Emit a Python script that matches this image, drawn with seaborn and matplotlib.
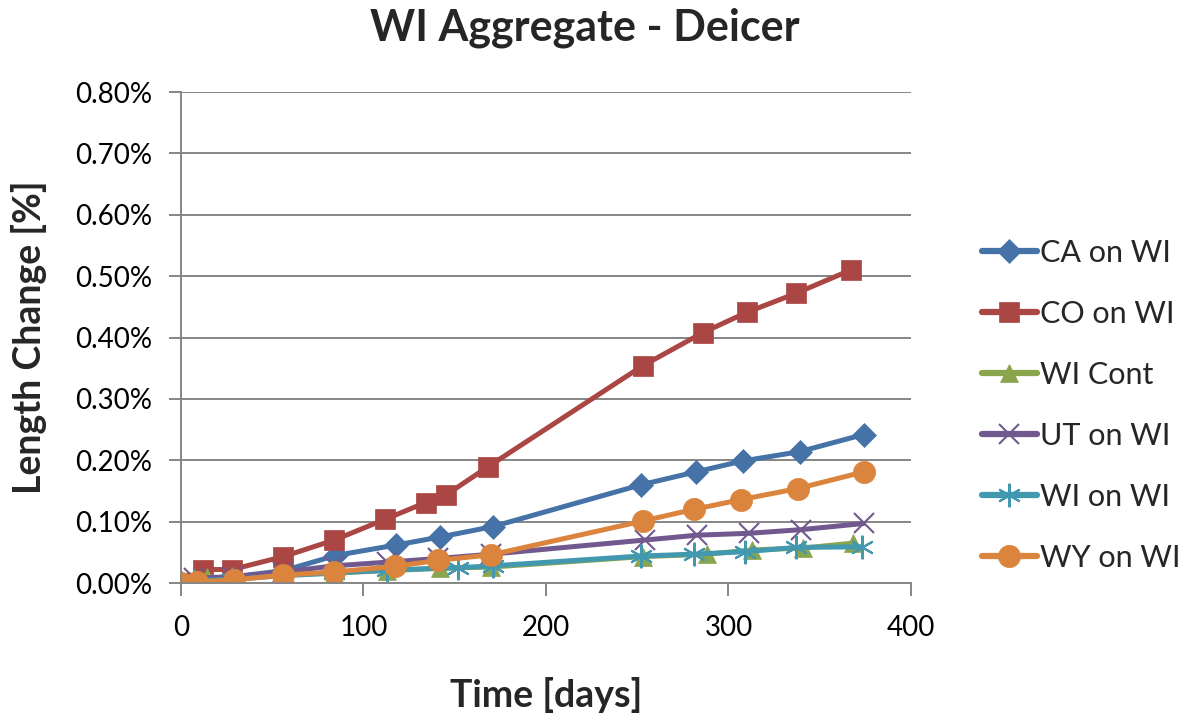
import matplotlib
matplotlib.use("Agg")
import matplotlib.pyplot as plt
import seaborn as sns
import pandas as pd
from matplotlib.ticker import FuncFormatter, MultipleLocator

# ---- data (length change in %) ----
ca_days = [0, 12, 28, 56, 85, 118, 142, 171, 252, 282, 308, 339, 374]
ca_vals = [0.0, 0.008, 0.010, 0.020, 0.045, 0.062, 0.075, 0.092, 0.160, 0.181, 0.199, 0.214, 0.242]

co_days = [0, 12, 28, 56, 84, 112, 134, 145, 168, 253, 286, 310, 337, 367]
co_vals = [0.0, 0.022, 0.022, 0.043, 0.070, 0.104, 0.131, 0.143, 0.189, 0.354, 0.408, 0.441, 0.472, 0.510]

wic_days = [0, 14, 28, 56, 84, 113, 142, 170, 253, 288, 313, 341, 368]
wic_vals = [0.0, 0.010, 0.008, 0.013, 0.017, 0.020, 0.024, 0.026, 0.043, 0.047, 0.054, 0.057, 0.065]

ut_days = [0, 7, 28, 56, 84, 113, 141, 170, 254, 283, 311, 340, 374]
ut_vals = [0.0, 0.008, 0.010, 0.018, 0.028, 0.034, 0.040, 0.047, 0.070, 0.078, 0.081, 0.087, 0.097]

wi_days = [0, 7, 28, 56, 84, 113, 152, 171, 252, 281, 309, 337, 373]
wi_vals = [0.0, 0.004, 0.006, 0.012, 0.016, 0.021, 0.025, 0.028, 0.044, 0.047, 0.051, 0.058, 0.059]

wy_days = [0, 9, 29, 56, 84, 117, 141, 170, 253, 281, 307, 338, 374]
wy_vals = [0.0, 0.002, 0.005, 0.013, 0.018, 0.027, 0.037, 0.046, 0.101, 0.120, 0.136, 0.154, 0.181]

series_names = ["CA on WI", "CO on WI", "WI Cont", "UT on WI", "WI on WI", "WY on WI"]
series_days = [ca_days, co_days, wic_days, ut_days, wi_days, wy_days]
series_vals = [ca_vals, co_vals, wic_vals, ut_vals, wi_vals, wy_vals]

colors = ["#4572A7", "#AA4643", "#89A54E", "#71588F", "#4198AF", "#DB843D"]
markers = ["D", "s", "^", "x", (6, 2, 0), "o"]
msizes = [12, 15, 13, 15, 17, 16]

sns.set_theme(style="white")
plt.rcParams["font.family"] = ["Lato", "DejaVu Sans"]

fig = plt.figure(figsize=(11.93, 7.23), dpi=100)
ax = fig.add_axes([0.1517, 0.1936, 0.6119, 0.6791])

for name, d, v, c, m, ms in zip(series_names, series_days, series_vals, colors, markers, msizes):
    df = pd.DataFrame({"Time": d, "Change": v})
    sns.lineplot(data=df, x="Time", y="Change", ax=ax, color=c, linewidth=3.6,
                 marker=m, markersize=ms, markeredgecolor=c,
                 markeredgewidth=1.5 if m in ("x", (6, 2, 0)) else 0.5,
                 label=name, sort=False, estimator=None)

ax.set_xlim(0, 400)
ax.set_ylim(0, 0.8)
ax.xaxis.set_major_locator(MultipleLocator(100))
ax.yaxis.set_major_locator(MultipleLocator(0.1))
ax.yaxis.set_major_formatter(FuncFormatter(lambda y, p: f"{y:.2f}%"))

ax.grid(axis="y", color="#868686", linewidth=1.4)
ax.grid(axis="x", visible=False)
ax.set_axisbelow(True)
for s in ["top", "right"]:
    ax.spines[s].set_visible(False)
for s in ["left", "bottom"]:
    ax.spines[s].set_color("#868686")
    ax.spines[s].set_linewidth(1.4)

ax.tick_params(axis="both", which="major", direction="out", length=9, width=1.4,
               color="#868686", labelsize=20, labelcolor="black", left=True, bottom=True)
ax.tick_params(axis="x", pad=14)
ax.tick_params(axis="y", pad=12)

ax.set_xlabel("Time [days]", fontsize=27, fontweight="bold", labelpad=26)
ax.set_ylabel("Length Change [%]", fontsize=27, fontweight="bold", labelpad=20)
fig.suptitle("WI Aggregate - Deicer", fontsize=31, fontweight="bold", x=0.49, y=0.99)

leg = ax.legend(loc="center left", bbox_to_anchor=(1.059, 0.3625), frameon=False,
                fontsize=22, handlelength=1.8, labelspacing=1.08, handletextpad=0.1)
for line in leg.get_lines():
    line.set_linewidth(4.5)

fig.savefig("out.png", dpi=100)
